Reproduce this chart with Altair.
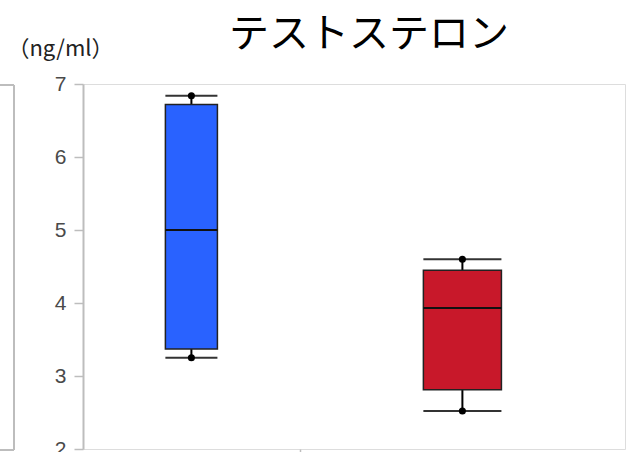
import altair as alt
import pandas as pd

# Two groups; each gets a share of the x axis proportional to its size
groups = ["A", "B"]
group_share = [0.4, 0.6]
box_fill = ["#2962FF", "#C8182A"]

# Five-number summaries (ng/ml)
whisker_low = [3.25, 2.52]
quartile_1 = [3.37, 2.81]
median = [5.00, 3.93]
quartile_3 = [6.72, 4.45]
whisker_high = [6.84, 4.60]

y_ticks = [2, 2.5, 3, 3.5, 4, 4.5, 5, 5.5, 6, 6.5, 7]

rows = []
start = 0.0
for g, share, lo, q1, md, q3, hi in zip(groups, group_share, whisker_low,
                                        quartile_1, median, quartile_3, whisker_high):
    center = start + share / 2
    half = share * 0.12
    rows.append(dict(group=g, left=center - half, right=center + half, center=center,
                     lo=lo, q1=q1, md=md, q3=q3, hi=hi, end=start + share))
    start += share
df = pd.DataFrame(rows)
boundaries = [r["end"] for r in rows[:-1]]

x_scale = alt.Scale(domain=[0, 1], nice=False, zero=False)
y_scale = alt.Scale(domain=[2, 7], nice=False, zero=False)
gray = "#BDBDBD"

x_axis = alt.Axis(values=boundaries, labels=False, title=None, domain=False,
                  grid=False, tickColor=gray, tickWidth=1.5, tickSize=8)
y_axis = alt.Axis(values=y_ticks, grid=False, domainColor=gray, domainWidth=2,
                  tickColor=gray, tickWidth=1.5, tickSize=9, labelPadding=8,
                  format="d",
                  labelExpr="datum.value % 1 == 0 ? datum.label : ''",
                  labelFont="Liberation Sans", labelFontSize=21, labelColor="#4a4a4a",
                  title="（ng/ml）", titleAngle=0, titleX=-23, titleY=-36,
                  titleAlign="center", titleBaseline="middle",
                  titleFont="Noto Sans CJK JP", titleFontSize=22,
                  titleFontWeight="normal", titleColor="#222222")


def xq(field):
    return alt.X(f"{field}:Q", scale=x_scale, axis=x_axis)


def yq(field):
    return alt.Y(f"{field}:Q", scale=y_scale, axis=y_axis)


base = alt.Chart(df)

whisker_top = base.mark_rule(color="black", strokeWidth=2).encode(
    x=xq("center"), y=yq("q3"), y2="hi:Q")
whisker_bottom = base.mark_rule(color="black", strokeWidth=2).encode(
    x=xq("center"), y=yq("lo"), y2="q1:Q")
cap_top = base.mark_rule(color="#333333", strokeWidth=2).encode(
    x=xq("left"), x2="right:Q", y=yq("hi"))
cap_bottom = base.mark_rule(color="#333333", strokeWidth=2).encode(
    x=xq("left"), x2="right:Q", y=yq("lo"))
box = base.mark_rect(stroke="#222222", strokeWidth=1.5).encode(
    x=xq("left"), x2="right:Q", y=yq("q1"), y2="q3:Q",
    color=alt.Color("group:N", scale=alt.Scale(domain=groups, range=box_fill), legend=None),
)
mid = base.mark_rule(color="#111111", strokeWidth=2).encode(
    x=xq("left"), x2="right:Q", y=yq("md"))
dot_top = base.mark_circle(color="black", size=50, opacity=1).encode(
    x=xq("center"), y=yq("hi"))
dot_bottom = base.mark_circle(color="black", size=50, opacity=1).encode(
    x=xq("center"), y=yq("lo"))

# Edge of the neighbouring panel on the left
neighbour = alt.Chart(pd.DataFrame({"k": [0]}))
edge_v = neighbour.mark_rule(color=gray, strokeWidth=2).encode(
    x=alt.value(-69), y=alt.value(1), y2=alt.value(366))
edge_top = neighbour.mark_rule(color=gray, strokeWidth=2).encode(
    x=alt.value(-90), x2=alt.value(-69), y=alt.value(1))
edge_bottom = neighbour.mark_rule(color=gray, strokeWidth=2).encode(
    x=alt.value(-90), x2=alt.value(-69), y=alt.value(366))

chart = alt.layer(
    whisker_top, whisker_bottom, cap_top, cap_bottom, box, mid, dot_top, dot_bottom,
    edge_v, edge_top, edge_bottom,
).properties(
    width=542, height=365,
    title=alt.TitleParams("テストステロン", font="Noto Sans CJK JP", fontSize=40,
                          fontWeight="normal", color="black", anchor="middle",
                          dx=15, offset=-18),
    autosize=alt.AutoSizeParams(type="none"),
    padding={"left": 83, "top": 84, "right": 8, "bottom": 3},
).configure_view(
    stroke=gray, strokeWidth=2
).configure(background="white")

chart.save("out.html", embed_options={"renderer": "svg", "actions": False})
